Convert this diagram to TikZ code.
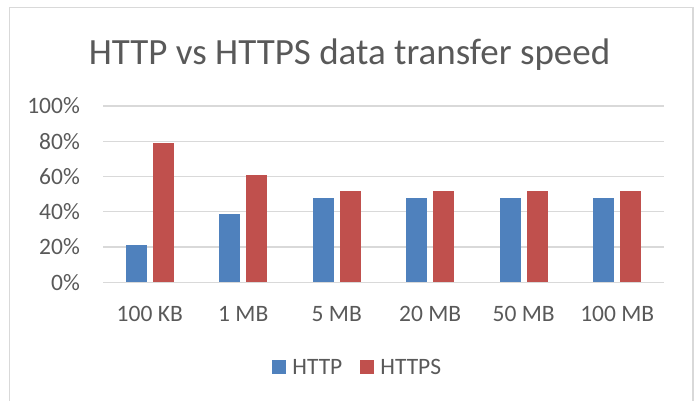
\documentclass[tikz,border=0pt]{standalone}
\usepackage{fontspec}
\setmainfont{Carlito}
\usepackage{xcolor}
\usepackage{tikz}
\usetikzlibrary{positioning}
\definecolor{httpblue}{HTML}{4F81BD}
\definecolor{httpsred}{HTML}{C0504D}
\definecolor{gridgray}{HTML}{D9D9D9}
\definecolor{textgray}{HTML}{595959}

\begin{document}
\begin{tikzpicture}[x=1pt,y=1pt,
	grid/.style={gridgray,line width=1.4pt},
	lbl/.style={text=textgray,font=\fontsize{23.5}{28}\selectfont,inner sep=0pt},
	key/.style={minimum size=14pt,inner sep=0pt}]
	\useasboundingbox (0,0) rectangle (697,400);
	% frame
	\draw[gridgray,line width=1.5pt] (9.5,-5) rectangle (693,392.5);
	% title
	\node[lbl,anchor=base,font=\fontsize{37}{44}\selectfont] (title) at (349.5,335)
	      {HTTP vs HTTPS data transfer speed};
	% gridlines
	\foreach \p in {0,20,...,100} {
		\draw[grid] (103,117.7+1.763*\p) -- (664,117.7+1.763*\p);
		\node[lbl,anchor=east] (y\p) at (80,117.7+1.763*\p) {\p\%};
	}
	% bars
	\foreach \c/\a/\b [count=\i] in {100 KB/21/79,1 MB/39/61,5 MB/48/52,
	                                  20 MB/48/52,50 MB/48/52,100 MB/48/52} {
		\pgfmathsetmacro\cx{103+93.5*(\i-0.5)}
		\fill[httpblue] (\cx-24,117.7) rectangle (\cx-3,117.7+1.763*\a);
		\fill[httpsred] (\cx+3,117.7) rectangle (\cx+24,117.7+1.763*\b);
		\node[lbl] (x\i) at (\cx,86) {\c};
	}
	% legend
	\node[key,fill=httpblue] (khttp) at (279,33) {};
	\node[lbl,right=6pt of khttp] (thttp) {HTTP};
	\node[key,fill=httpsred] (khttps) at (367,33) {};
	\node[lbl,right=6pt of khttps] (thttps) {HTTPS};
\end{tikzpicture}
\end{document}
